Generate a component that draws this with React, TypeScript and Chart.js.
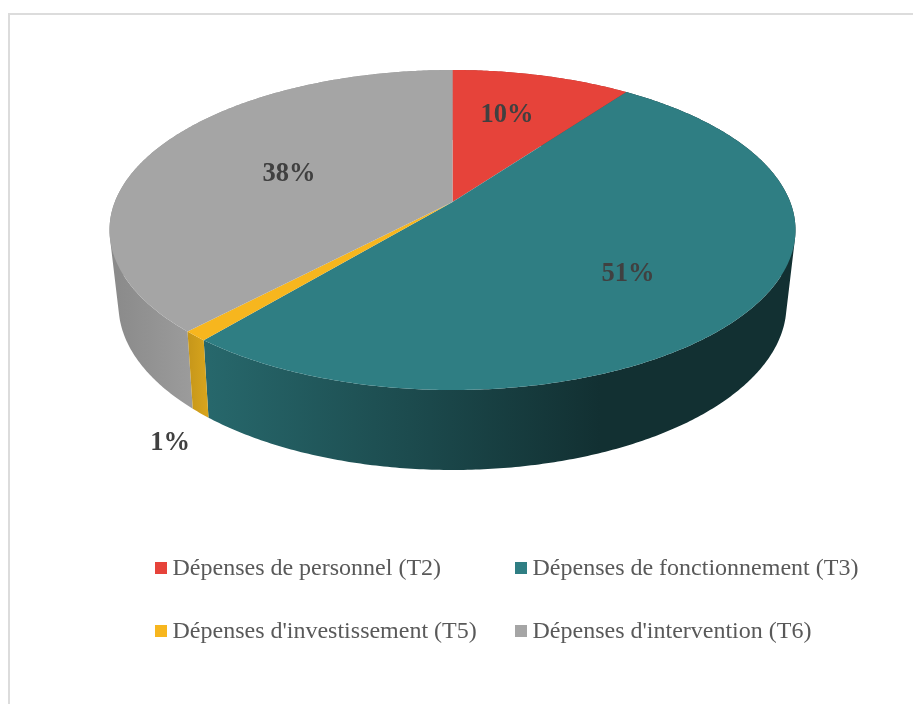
import React, { useEffect, useRef } from "react";
import { Chart, registerables } from "chart.js";

Chart.register(...registerables);

const categories = [
  "Dépenses de personnel (T2)",
  "Dépenses de fonctionnement (T3)",
  "Dépenses d'investissement (T5)",
  "Dépenses d'intervention (T6)",
];
const values = [10, 51, 1, 38];
const percentLabels = ["10%", "51%", "1%", "38%"];
const topColors = ["#e6433a", "#2f7e83", "#f7b61e", "#a5a5a5"];

const SERIF = '"Liberation Serif", "Times New Roman", serif';
const TOP = { cx: 452.5, cy: 230, rx: 343, ry: 160, e: -0.175 };
const BOTTOM = { cx: 452.5, cy: 305, rx: 334, ry: 165, e: -0.185 };
const LABEL_POS: [number, number][] = [[507, 115], [628, 274], [170, 443], [289, 174]];
const LEGEND_POS: [number, number][] = [[155, 562], [515, 562], [155, 625], [515, 625]];

function project(g: typeof TOP, angle: number): [number, number] {
  const X = Math.cos(angle);
  const Y = Math.sin(angle);
  const d = 1 + g.e * Y;
  const k = Math.sqrt(1 - g.e * g.e);
  return [g.cx + (g.rx * X * k) / d, g.cy + (g.ry * (Y + g.e)) / d];
}

function rimPath(ctx: CanvasRenderingContext2D, g: typeof TOP, a0: number, a1: number) {
  const n = Math.max(2, Math.ceil(Math.abs(a1 - a0) / 0.01));
  for (let i = 0; i <= n; i++) {
    const [x, y] = project(g, a0 + ((a1 - a0) * i) / n);
    ctx.lineTo(x, y);
  }
}

// The wall of one slice, as one path of quads between the two rims, all wound the same way.
function wallPath(ctx: CanvasRenderingContext2D, a0: number, a1: number) {
  const n = Math.max(2, Math.ceil(Math.abs(a1 - a0) / 0.01));
  ctx.beginPath();
  for (let i = 0; i < n; i++) {
    const p = a0 + ((a1 - a0) * i) / n;
    const q = a0 + ((a1 - a0) * (i + 1)) / n;
    let pts = [project(TOP, p), project(TOP, q), project(BOTTOM, q), project(BOTTOM, p)];
    let area = 0;
    pts.forEach((c, j) => {
      const d = pts[(j + 1) % 4];
      area += c[0] * d[1] - d[0] * c[1];
    });
    if (area < 0) pts = pts.reverse();
    pts.forEach((c, j) => (j === 0 ? ctx.moveTo(c[0], c[1]) : ctx.lineTo(c[0], c[1])));
    ctx.closePath();
  }
}

function wallFill(ctx: CanvasRenderingContext2D, i: number) {
  const stops: [number, string, number, string][] = [
    [0, "#a63029", 913, "#a63029"],
    [204, "#27686c", 600, "#123032"],
    [186, "#c4951a", 211, "#dba71d"],
    [118, "#8b8b8b", 190, "#9b9b9b"],
  ];
  const [x0, c0, x1, c1] = stops[i];
  const g = ctx.createLinearGradient(x0, 0, x1, 0);
  g.addColorStop(0, c0);
  g.addColorStop(1, c1);
  return g;
}

const pie3d = {
  id: "pie3d",
  beforeDatasetsDraw(chart: any) {
    const ctx: CanvasRenderingContext2D = chart.ctx;
    const arcs = chart.getDatasetMeta(0).data;
    const colors = chart.data.datasets[0].backgroundColor;
    ctx.save();
    // walls, back to front
    [0, 3, 1, 2].forEach((i) => {
      wallPath(ctx, arcs[i].startAngle, arcs[i].endAngle);
      ctx.fillStyle = wallFill(ctx, i);
      ctx.fill();
    });
    // top faces
    const [ax, ay] = [TOP.cx, TOP.cy + TOP.ry * TOP.e];
    arcs.forEach((arc: any, i: number) => {
      ctx.beginPath();
      ctx.moveTo(ax, ay);
      rimPath(ctx, TOP, arc.startAngle, arc.endAngle);
      ctx.closePath();
      ctx.fillStyle = colors[i];
      ctx.fill();
    });
    ctx.restore();
    return false;
  },
  afterDraw(chart: any) {
    const ctx: CanvasRenderingContext2D = chart.ctx;
    const colors = chart.data.datasets[0].backgroundColor;
    ctx.save();
    ctx.textBaseline = "middle";
    ctx.textAlign = "center";
    ctx.font = `bold 26.5px ${SERIF}`;
    ctx.fillStyle = "#404040";
    percentLabels.forEach((t, i) => ctx.fillText(t, LABEL_POS[i][0], LABEL_POS[i][1]));
    ctx.textAlign = "left";
    ctx.textBaseline = "alphabetic";
    ctx.font = `24px ${SERIF}`;
    chart.data.labels.forEach((t: string, i: number) => {
      const [x, y] = LEGEND_POS[i];
      ctx.fillStyle = colors[i];
      ctx.fillRect(x, y, 12, 12);
      ctx.fillStyle = "#595959";
      ctx.fillText(t, x + 17.5, y + 13);
    });
    ctx.fillStyle = "#dcdcdc";
    ctx.fillRect(8, 13, 905, 2);
    ctx.fillRect(8, 13, 2, 691);
    ctx.restore();
  },
};

export default function App() {
  const ref = useRef<HTMLCanvasElement>(null);
  useEffect(() => {
    const chart = new Chart(ref.current!, {
      type: "pie",
      data: {
        labels: categories,
        datasets: [{ data: values, backgroundColor: topColors, borderWidth: 0 }],
      },
      options: {
        animation: false,
        responsive: false,
        plugins: { legend: { display: false }, tooltip: { enabled: false } },
      },
      plugins: [pie3d],
    } as any);
    return () => chart.destroy();
  }, []);
  return (
    <div style={{ position: "fixed", left: 0, top: 0, width: 913, height: 704, background: "#fff" }}>
      <canvas ref={ref} width={913} height={704} style={{ display: "block" }} />
    </div>
  );
}
